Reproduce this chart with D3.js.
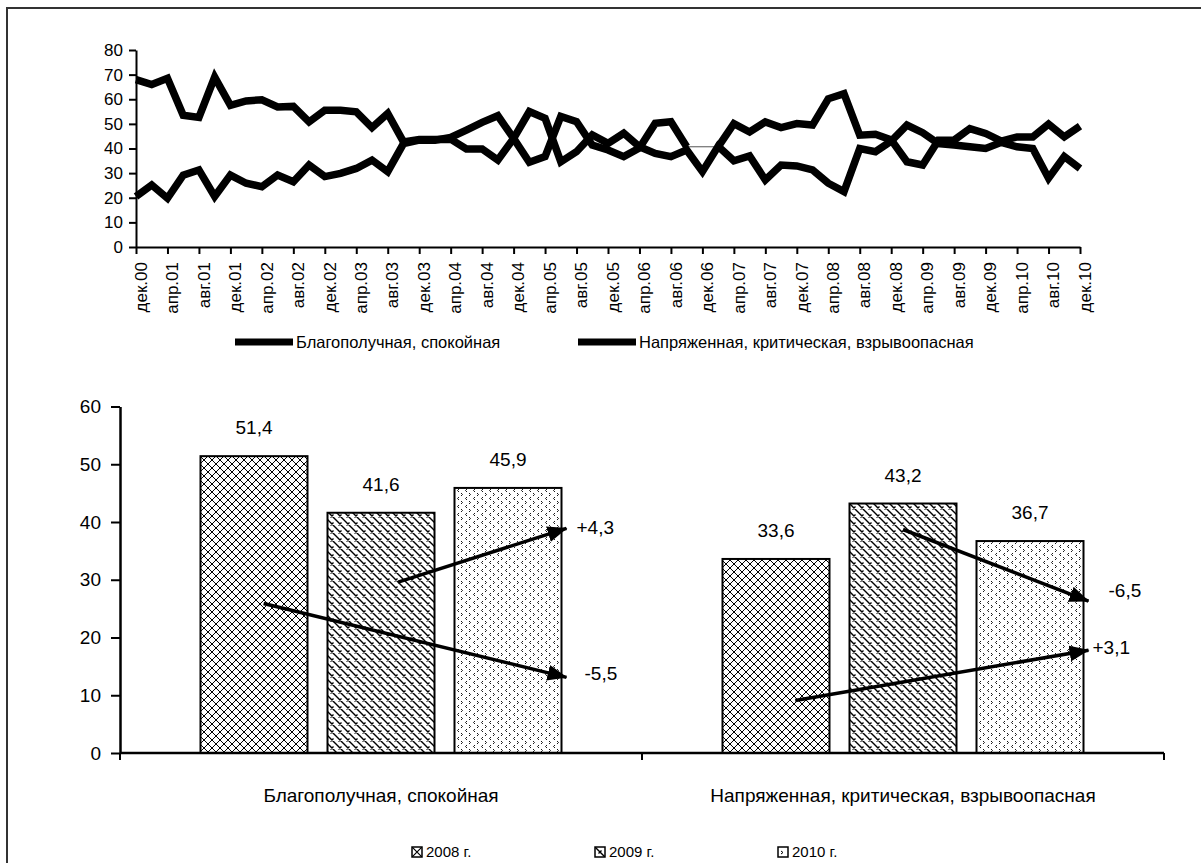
<!DOCTYPE html>
<html>
<head>
<meta charset="utf-8">
<script src="https://d3js.org/d3.v7.min.js"></script>
<style>
  body { margin: 0; background: #fff; }
  text { font-family: "Liberation Sans", Arial, sans-serif; fill: #000; }
</style>
</head>
<body>
<div id="chart"></div>
<script>

// tick labels of the top chart (one every second point)
var tickLabels = ['дек.00','апр.01','авг.01','дек.01','апр.02','авг.02','дек.02','апр.03','авг.03','дек.03',
                  'апр.04','авг.04','дек.04','апр.05','авг.05','дек.05','апр.06','авг.06','дек.06','апр.07',
                  'авг.07','дек.07','апр.08','авг.08','дек.08','апр.09','авг.09','дек.09','апр.10','авг.10','дек.10'];

var seriesNames = ['Благополучная, спокойная', 'Напряженная, критическая, взрывоопасная'];

// bimonthly values, дек.00 .. дек.10 (null = no value)
var blag = [20.5, 25.2, 19.8, 29.2, 31.3, 20.5, 29.2, 25.9, 24.5, 29.2,
            26.5, 33.3, 28.6, 29.9, 31.9, 35.3, 30.6, 42.0, 43.4, 43.4,
            44.5, 47.5, 50.6, 53.3, 44.1, 34.4, 36.7, 53.0, 50.9, 41.4,
            39.4, 36.7, 40.2, 50.2, 50.9, 40.7, null, 40.7, 50.1, 46.7,
            50.8, 48.5, 50.1, 49.5, 60.2, 62.3, 45.4, 45.8, 43.5, 34.6,
            33.3, 43.4, 43.4, 48.1, 46.1, 43.0, 44.7, 44.7, 49.9, 44.7, 49.1];
var napr = [68.0, 66.0, 68.5, 53.5, 52.6, 69.0, 57.5, 59.3, 59.8, 56.9,
            57.1, 50.8, 55.5, 55.5, 54.9, 48.5, 54.2, 42.7, 43.7, 43.7,
            43.8, 39.8, 39.8, 35.3, 44.1, 55.0, 52.3, 34.6, 38.7, 45.5,
            42.1, 46.2, 40.7, 38.0, 36.7, 39.4, 30.6, 40.9, 35.0, 37.0,
            27.2, 33.3, 32.9, 31.3, 25.9, 22.5, 40.0, 38.7, 43.0, 49.5,
            46.4, 42.0, 41.4, 40.7, 40.0, 42.5, 40.7, 40.0, 27.9, 36.7, 31.9];

// bottom chart
var years = ['2008 г.', '2009 г.', '2010 г.'];
var blagBars = [51.4, 41.6, 45.9];
var naprBars = [33.6, 43.2, 36.7];
var barLabels = [['51,4', '41,6', '45,9'], ['33,6', '43,2', '36,7']];

// change arrows: from one bar to the 2010 bar, in value units
var arrows = [
  {cat: 0, from: 0, fromV: 25.9, toV: 13.1, label: '-5,5'},
  {cat: 0, from: 1, fromV: 29.6, toV: 38.9, label: '+4,3'},
  {cat: 1, from: 1, fromV: 38.7, toV: 26.3, label: '-6,5'},
  {cat: 1, from: 0, fromV: 9.1,  toV: 17.8, label: '+3,1'}
];
var arrowStyle = [
  {pos: 0.59, dx: 18, dy: -4},
  {pos: 0.66, dx: 10, dy: -1},
  {pos: 0.5,  dx: 20, dy: -11},
  {pos: 0.68, dx: 4,  dy: -3}
];

var svg = d3.select('#chart')
  .append('svg')
    .attr('width', 1201)
    .attr('height', 863);

var defs = svg.append('defs');

// fill patterns for the bars
var p = defs.append('pattern').attr('id', 'p0').attr('patternUnits', 'userSpaceOnUse')
  .attr('width', 8).attr('height', 8);
p.append('rect').attr('width', 8).attr('height', 8).attr('fill', '#fff');
p.append('path').attr('d', 'M0,0L8,8M8,0L0,8').attr('stroke', '#000').attr('stroke-width', 1);

p = defs.append('pattern').attr('id', 'p1').attr('patternUnits', 'userSpaceOnUse')
  .attr('width', 8).attr('height', 8);
p.append('rect').attr('width', 8).attr('height', 8).attr('fill', '#fff');
p.append('path').attr('d', 'M0,0L8,8M-2,6L2,10M6,-2L10,2M2.5,5.5L5.5,2.5').attr('stroke', '#000').attr('stroke-width', 1.4);

p = defs.append('pattern').attr('id', 'p2').attr('patternUnits', 'userSpaceOnUse')
  .attr('width', 8).attr('height', 8);
p.append('rect').attr('width', 8).attr('height', 8).attr('fill', '#fff');
p.append('path').attr('d', 'M3,1L1.5,2.5L3,4M5,5L6.5,6.5L5,8').attr('stroke', '#000')
  .attr('stroke-width', 0.9).attr('fill', 'none');

// legend swatch patterns
var lp = defs.append('pattern').attr('id', 'l0').attr('width', 1).attr('height', 1)
  .attr('patternContentUnits', 'objectBoundingBox');
lp.append('rect').attr('width', 1).attr('height', 1).attr('fill', '#fff');
lp.append('path').attr('d', 'M0,0L1,1M1,0L0,1').attr('stroke', '#000').attr('stroke-width', 0.12);
lp = defs.append('pattern').attr('id', 'l1').attr('width', 1).attr('height', 1)
  .attr('patternContentUnits', 'objectBoundingBox');
lp.append('rect').attr('width', 1).attr('height', 1).attr('fill', '#fff');
lp.append('path').attr('d', 'M0,0L1,1M0.35,0.65L0.65,0.35').attr('stroke', '#000').attr('stroke-width', 0.14);
lp = defs.append('pattern').attr('id', 'l2').attr('width', 1).attr('height', 1)
  .attr('patternContentUnits', 'objectBoundingBox');
lp.append('rect').attr('width', 1).attr('height', 1).attr('fill', '#fff');
lp.append('path').attr('d', 'M0.3,0.4L0.5,0.55L0.3,0.7').attr('stroke', '#000').attr('stroke-width', 0.1).attr('fill', 'none');

defs.append('marker')
    .attr('id', 'arrow')
    .attr('markerUnits', 'userSpaceOnUse')
    .attr('markerWidth', 20).attr('markerHeight', 16)
    .attr('refX', 19).attr('refY', 8)
    .attr('orient', 'auto')
  .append('path')
    .attr('d', 'M0,0L20,8L0,16Z')
    .attr('fill', '#000');

// frame
svg.append('path')
  .attr('d', 'M7,863V8H1201')
  .attr('fill', 'none')
  .attr('stroke', '#333')
  .attr('stroke-width', 2);

// ---------- top chart ----------
var x = d3.scaleLinear().domain([0, 60]).range([136, 1080]);
var y = d3.scaleLinear().domain([0, 80]).range([247, 50]);

var gy = svg.append('g')
  .attr('transform', 'translate(' + x(0) + ',0)')
  .call(d3.axisLeft(y).tickValues(d3.range(0, 81, 10)).tickSize(7).tickSizeOuter(0).tickPadding(6));

var gx = svg.append('g')
  .attr('transform', 'translate(0,' + y(0) + ')')
  .call(d3.axisBottom(x).tickValues(d3.range(0, 61, 2))
    .tickFormat(function(d, i) { return tickLabels[i]; })
    .tickSize(7).tickSizeOuter(0));

gx.selectAll('text')
  .attr('text-anchor', 'end')
  .attr('transform', 'rotate(-90)')
  .attr('x', -15)
  .attr('y', 0)
  .attr('dy', '0.6em')
  .style('font-size', '17px');

[gx, gy].forEach(function(g) {
  g.select('.domain').attr('stroke', '#000').attr('stroke-width', 2);
  g.selectAll('.tick line').attr('stroke', '#000').attr('stroke-width', 2);
  g.selectAll('text').attr('font-family', null);
});
gy.selectAll('text').style('font-size', '17px');

var line = d3.line()
  .defined(function(d) { return d != null; })
  .x(function(d, i) { return x(i); })
  .y(function(d) { return y(d); })
  .curve(d3.curveLinear);

// both series are drawn the same way (thick black)
[blag, napr].forEach(function(s) {
  svg.append('path')
    .datum(s)
    .attr('d', line)
    .attr('fill', 'none')
    .attr('stroke', '#000')
    .attr('stroke-width', 7.5)
    .attr('stroke-linejoin', 'miter')
    .attr('stroke-miterlimit', 3);

  // thin connector across missing points
  s.forEach(function(d, i) {
    if (d == null && i > 0 && i < s.length - 1) {
      svg.append('line')
        .attr('x1', x(i - 1)).attr('y1', y(s[i - 1]))
        .attr('x2', x(i + 1)).attr('y2', y(s[i + 1]))
        .attr('stroke', '#555')
        .attr('stroke-width', 1);
    }
  });
});

// top legend
var topLegendX = [235, 578];
seriesNames.forEach(function(name, i) {
  var lg = svg.append('g').attr('transform', 'translate(' + topLegendX[i] + ',342)');
  lg.append('line').attr('x1', 0).attr('x2', 58).attr('stroke', '#000').attr('stroke-width', 7);
  lg.append('text').attr('x', 61).attr('dy', '0.36em').style('font-size', '16.5px').text(name);
});

// ---------- bottom chart ----------
var by = d3.scaleLinear().domain([0, 60]).range([753, 406.5]);
var bx0 = d3.scaleBand().domain(seriesNames).range([120, 1164]);
var bx1 = d3.scaleBand().domain(years).range([80.5, 441.5]).paddingInner(0.1575);
var bw = bx1.bandwidth();

var barValues = [blagBars, naprBars];

var byAxis = svg.append('g')
  .attr('transform', 'translate(120,0)')
  .call(d3.axisLeft(by).tickValues(d3.range(0, 61, 10)).tickSize(9).tickSizeOuter(0).tickPadding(10));
byAxis.selectAll('text').attr('font-family', null).style('font-size', '19px');

var groups = svg.selectAll('.grp')
  .data(seriesNames)
  .enter()
  .append('g')
    .attr('class', 'grp')
    .attr('transform', function(d) { return 'translate(' + bx0(d) + ',0)'; });

groups.selectAll('rect')
  .data(function(d, ci) { return barValues[ci].map(function(v, yi) { return {v: v, y: years[yi], yi: yi, ci: ci}; }); })
  .enter()
  .append('rect')
    .attr('x', function(d) { return bx1(d.y); })
    .attr('y', function(d) { return by(d.v); })
    .attr('width', bw)
    .attr('height', function(d) { return by(0) - by(d.v); })
    .attr('fill', function(d) { return 'url(#p' + d.yi + ')'; })
    .attr('stroke', '#000')
    .attr('stroke-width', 2);

groups.selectAll('.lbl')
  .data(function(d, ci) { return barValues[ci].map(function(v, yi) { return {v: v, y: years[yi], t: barLabels[ci][yi]}; }); })
  .enter()
  .append('text')
    .attr('class', 'lbl')
    .attr('x', function(d) { return bx1(d.y) + bw / 2; })
    .attr('y', function(d) { return by(d.v) - 22; })
    .attr('text-anchor', 'middle')
    .style('font-size', '19px')
    .text(function(d) { return d.t; });

// category axis
var bxAxis = svg.append('g').attr('transform', 'translate(0,' + by(0) + ')');
bxAxis.append('line').attr('x1', 120).attr('x2', 1164).attr('stroke', '#000').attr('stroke-width', 2.5);
[120, bx0(seriesNames[1]), 1164].forEach(function(t) {
  bxAxis.append('line').attr('x1', t).attr('x2', t).attr('y1', 0).attr('y2', 7)
    .attr('stroke', '#000').attr('stroke-width', 2);
});
seriesNames.forEach(function(name) {
  bxAxis.append('text')
    .attr('x', bx0(name) + bx0.bandwidth() / 2)
    .attr('y', 49)
    .attr('text-anchor', 'middle')
    .style('font-size', '19px')
    .text(name);
});

byAxis.select('.domain').attr('stroke', '#000').attr('stroke-width', 2.5);
byAxis.selectAll('.tick line').attr('stroke', '#000').attr('stroke-width', 2);

// arrows
arrows.forEach(function(a, i) {
  var st = arrowStyle[i];
  var cat = seriesNames[a.cat];
  var x1 = bx0(cat) + bx1(years[a.from]) + bw * st.pos;
  var x2 = bx0(cat) + bx1(years[2]) + bw + 5;
  svg.append('line')
    .attr('x1', x1).attr('y1', by(a.fromV))
    .attr('x2', x2).attr('y2', by(a.toV))
    .attr('stroke', '#000')
    .attr('stroke-width', 3.5)
    .attr('marker-end', 'url(#arrow)');
  svg.append('text')
    .attr('x', x2 + st.dx)
    .attr('y', by(a.toV) + st.dy)
    .attr('dy', '0.35em')
    .style('font-size', '19px')
    .text(a.label);
});

// bottom legend
var botLegendX = [412, 595, 778];
years.forEach(function(yr, i) {
  var lg = svg.append('g').attr('transform', 'translate(' + botLegendX[i] + ',847)');
  lg.append('rect').attr('width', 10).attr('height', 10)
    .attr('fill', 'url(#l' + i + ')').attr('stroke', '#000').attr('stroke-width', 1.5);
  lg.append('text').attr('x', 14).attr('y', 10).style('font-size', '15px').text(yr);
});

</script>
</body>
</html>
